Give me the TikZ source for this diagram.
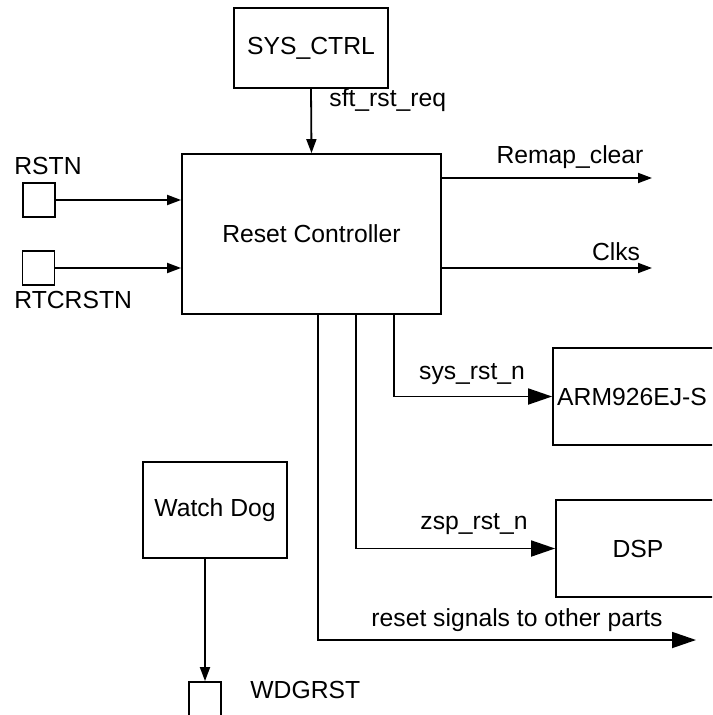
\documentclass[tikz,border=0pt]{standalone}
\usepackage{fontspec}
\setmainfont{Liberation Sans}
\usepackage{tikz}
\usetikzlibrary{arrows.meta,positioning,calc}

\begin{document}
\begin{tikzpicture}[
  x=0.5pt, y=-0.5pt,
  blk/.style={draw, line width=0.9pt, inner sep=0pt},
  pin/.style={draw, line width=0.9pt, minimum width=16pt, minimum height=17pt, inner sep=0pt},
  sarr/.style={line width=0.9pt, -{Triangle[length=7pt, width=5pt]}},
  barr/.style={line width=0.9pt, -{Triangle[length=12pt, width=8pt]}},
  every node/.style={font=\fontsize{12.35}{14}\selectfont}
]
  \useasboundingbox (0,0) rectangle (712,715);
  \clip (0,0) rectangle (712,715);

  % blocks
  \node[blk, minimum width=77pt, minimum height=40pt] (sysctrl) at (311,48) {SYS\_CTRL};
  \node[blk, minimum width=129.5pt, minimum height=80pt] (rc) at (311.5,234) {Reset Controller};
  \node[blk, minimum width=84pt, minimum height=48.5pt] (arm) at (637,396.5) {\hspace*{-5pt}ARM926EJ-S};
  \node[blk, minimum width=82pt, minimum height=48.5pt] (dsp) at (638,548.5) {DSP};
  \node[blk, minimum width=72pt, minimum height=48pt] (wd) at (215,510) {Watch Dog};

  % pins
  \node[pin] (rstn) at (39,200) {};
  \node[pin] (rtcrstn) at (38.5,268) {};
  \node[pin] (wdgrst) at (205,699) {};
  \node[anchor=west, inner sep=0pt] (rstnlbl) at (14,166) {RSTN};
  \node[anchor=west, inner sep=0pt] (rtclbl) at (14,300) {RTCRSTN};
  \node[anchor=west, inner sep=0pt] (wdglbl) at (250,690) {WDGRST};

  % free ends
  \coordinate (remap) at (652,178);
  \coordinate (clks) at (652,268);
  \coordinate (other) at (696,640);

  % inputs
  \draw[sarr] (sysctrl.south) -- (rc.north);
  \node[anchor=west, inner sep=0pt] (sftlbl) at (329,100) {sft\_rst\_req};
  \draw[sarr] (rstn.east) -- (rstn.east -| rc.west);
  \draw[sarr] (rtcrstn.east) -- (rtcrstn.east -| rc.west);

  % outputs
  \draw[sarr] (rc.east |- remap) -- (remap);
  \node (remaplbl) at (570,157) {Remap\_clear};
  \draw[sarr] (rc.east |- clks) -- (clks);
  \node (clkslbl) at (616,252) {Clks};

  \draw[barr] ([xshift=41.25pt]rc.south) |- (arm.west);
  \node (syslbl) at (472,374) {sys\_rst\_n};
  \draw[barr] ([xshift=22.25pt]rc.south) |- (dsp.west);
  \node (zsplbl) at (474,524) {zsp\_rst\_n};
  \draw[barr] ([xshift=3.25pt]rc.south) |- (other);
  \node (otherlbl) at (517,620) {reset signals to other parts};

  \draw[sarr] (wdgrst.north |- wd.south) -- (wdgrst.north);
\end{tikzpicture}
\end{document}
